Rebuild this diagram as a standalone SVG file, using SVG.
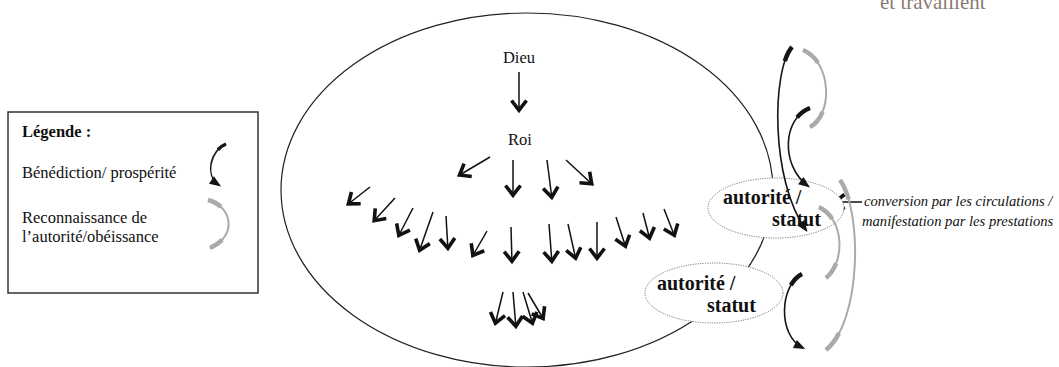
<svg xmlns="http://www.w3.org/2000/svg" width="1059" height="367" viewBox="0 0 1059 367">
<style>
.t{font-family:"Liberation Serif","Times New Roman",serif;fill:#111}
.lg{font-size:16.5px}
.b{font-weight:bold;font-size:20px}
.i{font-style:italic;font-size:14.6px}
.ar{stroke:#111;stroke-width:1.5;fill:none;marker-end:url(#chev)}
.dot{fill:#fff;stroke:#777;stroke-width:1;stroke-dasharray:1.2 1.2}
.bk{fill:none;stroke:#151515;stroke-width:1.6;marker-end:url(#bh)}
.bkt{fill:none;stroke:#151515;stroke-width:4.5;stroke-dasharray:16 400}
.gr{fill:none;stroke:#aaa;stroke-width:2}
.grt{fill:none;stroke:#aaa;stroke-width:4.5;stroke-dasharray:22 56 22}
</style>
<defs>
<marker id="chev" markerUnits="userSpaceOnUse" viewBox="-14 -10 18 20" refX="0" refY="0" markerWidth="18" markerHeight="20" orient="auto" overflow="visible"><path d="M-11.5,-7.5 L-1.8,0 L-11.5,7.5" fill="none" stroke="#111" stroke-width="3.6"/></marker>
<marker id="bh" markerUnits="userSpaceOnUse" viewBox="-10 -6 13 12" refX="0" refY="0" markerWidth="13" markerHeight="12" orient="auto" overflow="visible"><path d="M-9,-4.5 L2.5,0 L-9,4.5 Z" fill="#151515"/></marker>
</defs>
<rect width="1059" height="367" fill="#fff"/>
<text class="t" x="880" y="9" style="font-size:21px;fill:#8a7a72">et travaillent</text>

<g id="legend">
<rect x="8" y="112" width="250" height="181" fill="none" stroke="#333" stroke-width="1.5"/>
<text class="t lg" x="22" y="137" font-weight="bold">Légende :</text>
<text class="t lg" x="22" y="178">Bénédiction/ prospérité</text>
<text class="t lg" x="22" y="223">Reconnaissance de</text>
<text class="t lg" x="22" y="242">l’autorité/obéissance</text>
<path class="bk" d="M226,144 C211,150 204,175 219,185"/>
<path class="bkt" d="M226,144 C211,150 204,175 219,185" style="stroke-dasharray:10 200;stroke-width:3.5"/>
<path class="gr" pathLength="100" d="M208,200 C232,206 238,236 210,248"/>
<path class="grt" pathLength="100" d="M208,200 C232,206 238,236 210,248"/>
</g>

<g id="society">
<ellipse cx="527" cy="190" rx="246" ry="177" fill="none" stroke="#222" stroke-width="1.2"/>
</g>

<g id="dieu"><text class="t lg" x="519" y="63" text-anchor="middle">Dieu</text></g>
<g id="roi"><text class="t lg" x="520" y="145" text-anchor="middle">Roi</text></g>

<g id="connectors">
<line class="ar" x1="519" y1="72" x2="519" y2="112"/>
<line class="ar" x1="490" y1="157" x2="458" y2="176"/>
<line class="ar" x1="513" y1="160" x2="513" y2="197"/>
<line class="ar" x1="547" y1="160" x2="552" y2="199"/>
<line class="ar" x1="566" y1="160" x2="593" y2="185"/>
<line class="ar" x1="370" y1="187" x2="347" y2="205"/>
<line class="ar" x1="395" y1="198" x2="373" y2="222"/>
<line class="ar" x1="413" y1="208" x2="398" y2="237"/>
<line class="ar" x1="433" y1="212" x2="419" y2="252"/>
<line class="ar" x1="446" y1="216" x2="448" y2="250"/>
<line class="ar" x1="487" y1="231" x2="472" y2="257"/>
<line class="ar" x1="511" y1="227" x2="512" y2="263"/>
<line class="ar" x1="549" y1="224" x2="552" y2="263"/>
<line class="ar" x1="568" y1="224" x2="576" y2="260"/>
<line class="ar" x1="597" y1="222" x2="597" y2="260"/>
<line class="ar" x1="616" y1="217" x2="626" y2="248"/>
<line class="ar" x1="643" y1="213" x2="650" y2="240"/>
<line class="ar" x1="664" y1="209" x2="675" y2="237"/>
<line class="ar" x1="503" y1="292" x2="495" y2="325"/>
<line class="ar" x1="513" y1="292" x2="516" y2="328"/>
<line class="ar" x1="523" y1="292" x2="533" y2="325"/>
<line class="ar" x1="528" y1="293" x2="544" y2="320"/>
<line class="ar" x1="862" y1="202" x2="833" y2="202"/>
</g>

<g id="statut-haut">
<ellipse class="dot" cx="776" cy="208" rx="68" ry="30"/>
<text class="t b" x="723" y="204">autorité /</text>
<text class="t b" x="772" y="226">statut</text>
</g>
<g id="statut-bas">
<ellipse class="dot" cx="714" cy="293" rx="69" ry="30"/>
<text class="t b" x="657" y="290">autorité /</text>
<text class="t b" x="707" y="312">statut</text>
</g>

<g id="flux">
<path class="gr" pathLength="100" d="M803,50 C832,62 833,115 810,127"/>
<path class="grt" pathLength="100" d="M803,50 C832,62 833,115 810,127"/>
<path class="gr" pathLength="100" d="M840,180 C862,210 862,320 826,350"/>
<path class="grt" pathLength="100" d="M840,180 C862,210 862,320 826,350" style="stroke-dasharray:12 76 12"/>
<path class="gr" pathLength="100" d="M819,207 C845,220 845,262 826,278"/>
<path class="grt" pathLength="100" d="M819,207 C845,220 845,262 826,278"/>
<path class="bk" d="M792,47 C772,70 770,180 806,230"/>
<path class="bkt" d="M792,47 C772,70 770,180 806,230"/>
<path class="bk" d="M810,108 C783,118 780,165 808,186"/>
<path class="bkt" d="M810,108 C783,118 780,165 808,186"/>
<path class="bk" d="M802,274 C780,285 777,335 803,348"/>
<path class="bkt" d="M802,274 C780,285 777,335 803,348"/>
</g>

<g id="conversion">
<text class="t i" x="864" y="206">conversion par les circulations /</text>
<text class="t i" x="862" y="226">manifestation par les prestations</text>
</g>
</svg>
